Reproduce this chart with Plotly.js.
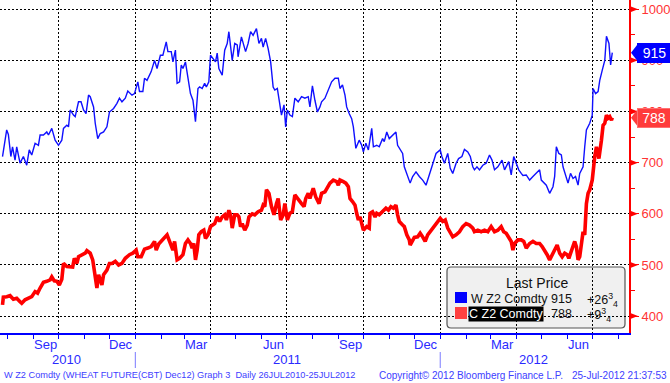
<!DOCTYPE html>
<html>
<head>
<meta charset="utf-8">
<script src="https://cdn.plot.ly/plotly-3.0.1.min.js"></script>
<style>html,body{margin:0;padding:0;background:#fff;}#chart{width:670px;height:383px;}</style>
</head>
<body>
<div id="chart"></div>
<script>
// ---- DATA ----
const wheatDates = ["2010-07-26","2010-07-28","2010-07-31","2010-08-02","2010-08-05","2010-08-07","2010-08-10","2010-08-12","2010-08-16","2010-08-20","2010-08-24","2010-08-27","2010-08-30","2010-09-03","2010-09-07","2010-09-09","2010-09-13","2010-09-17","2010-09-19","2010-09-23","2010-09-25","2010-09-27","2010-10-01","2010-10-05","2010-10-07","2010-10-11","2010-10-13","2010-10-15","2010-10-19","2010-10-21","2010-10-25","2010-10-28","2010-10-31","2010-11-03","2010-11-06","2010-11-08","2010-11-12","2010-11-14","2010-11-17","2010-11-20","2010-11-24","2010-11-28","2010-12-01","2010-12-06","2010-12-10","2010-12-13","2010-12-16","2010-12-20","2010-12-23","2010-12-28","2010-12-31","2011-01-04","2011-01-06","2011-01-10","2011-01-12","2011-01-15","2011-01-20","2011-01-24","2011-01-27","2011-01-31","2011-02-03","2011-02-07","2011-02-09","2011-02-13","2011-02-15","2011-02-18","2011-02-20","2011-02-23","2011-02-25","2011-02-27","2011-03-02","2011-03-05","2011-03-08","2011-03-11","2011-03-14","2011-03-17","2011-03-19","2011-03-22","2011-03-25","2011-03-27","2011-03-30","2011-04-01","2011-04-04","2011-04-07","2011-04-09","2011-04-11","2011-04-15","2011-04-18","2011-04-21","2011-04-23","2011-04-27","2011-04-30","2011-05-03","2011-05-04","2011-05-08","2011-05-13","2011-05-16","2011-05-19","2011-05-22","2011-05-26","2011-05-29","2011-06-01","2011-06-03","2011-06-06","2011-06-09","2011-06-12","2011-06-15","2011-06-17","2011-06-20","2011-06-22","2011-06-25","2011-06-28","2011-06-30","2011-07-02","2011-07-05","2011-07-08","2011-07-11","2011-07-15","2011-07-19","2011-07-23","2011-07-27","2011-07-29","2011-08-01","2011-08-04","2011-08-07","2011-08-10","2011-08-12","2011-08-16","2011-08-20","2011-08-22","2011-08-24","2011-08-28","2011-09-01","2011-09-03","2011-09-06","2011-09-09","2011-09-11","2011-09-14","2011-09-17","2011-09-19","2011-09-22","2011-09-26","2011-09-29","2011-10-01","2011-10-04","2011-10-07","2011-10-11","2011-10-13","2011-10-17","2011-10-20","2011-10-24","2011-10-26","2011-10-29","2011-11-01","2011-11-05","2011-11-09","2011-11-11","2011-11-13","2011-11-17","2011-11-19","2011-11-21","2011-11-23","2011-11-26","2011-11-29","2011-12-03","2011-12-07","2011-12-11","2011-12-15","2011-12-19","2011-12-23","2011-12-27","2012-01-01","2012-01-03","2012-01-06","2012-01-10","2012-01-13","2012-01-16","2012-01-20","2012-01-23","2012-01-27","2012-01-30","2012-02-03","2012-02-06","2012-02-09","2012-02-11","2012-02-14","2012-02-17","2012-02-21","2012-02-25","2012-02-29","2012-03-03","2012-03-06","2012-03-10","2012-03-15","2012-03-18","2012-03-23","2012-03-26","2012-03-29","2012-04-01","2012-04-04","2012-04-07","2012-04-09","2012-04-13","2012-04-17","2012-04-21","2012-04-25","2012-04-29","2012-05-01","2012-05-07","2012-05-11","2012-05-15","2012-05-17","2012-05-19","2012-05-22","2012-05-25","2012-05-27","2012-05-31","2012-06-02","2012-06-05","2012-06-08","2012-06-11","2012-06-14","2012-06-16","2012-06-20","2012-06-22","2012-06-24","2012-06-28","2012-07-01","2012-07-02","2012-07-05","2012-07-08","2012-07-10","2012-07-13","2012-07-16","2012-07-18","2012-07-21","2012-07-23","2012-07-25"];
const wheatPrices = [712,735,764,755,712,731,705,731,699,712,695,725,715,738,734,754,754,760,754,767,757,744,734,744,767,773,770,803,793,790,819,819,803,796,832,829,809,777,747,757,760,770,799,806,816,826,819,826,840,832,835,858,839,839,865,861,878,900,884,910,910,936,917,917,897,920,855,858,891,884,897,868,835,822,780,845,848,845,855,848,858,910,904,897,914,884,871,920,933,956,900,933,930,907,946,917,933,956,949,962,933,943,926,943,923,897,848,842,845,822,793,813,770,803,793,790,826,819,829,826,829,809,850,822,799,809,819,826,842,848,858,865,865,845,852,832,809,796,786,770,728,744,734,721,738,725,767,731,734,731,747,741,760,747,754,760,734,728,718,692,682,676,660,673,682,673,666,656,676,695,718,725,712,699,718,689,679,699,708,712,726,721,712,692,686,692,686,695,699,715,705,686,692,705,686,702,676,712,699,686,679,675,676,666,673,679,686,666,656,640,653,673,731,718,715,692,673,660,679,669,673,656,679,692,731,764,777,793,845,835,839,861,881,900,947,933,891,915];

const cornDates = ["2010-07-26","2010-07-27","2010-07-31","2010-08-04","2010-08-08","2010-08-12","2010-08-16","2010-08-18","2010-08-22","2010-08-26","2010-08-30","2010-09-03","2010-09-06","2010-09-09","2010-09-13","2010-09-17","2010-09-21","2010-09-23","2010-09-26","2010-09-29","2010-10-02","2010-10-05","2010-10-07","2010-10-11","2010-10-15","2010-10-18","2010-10-20","2010-10-23","2010-10-25","2010-10-29","2010-11-02","2010-11-04","2010-11-08","2010-11-11","2010-11-14","2010-11-16","2010-11-18","2010-11-20","2010-11-22","2010-11-24","2010-11-28","2010-12-01","2010-12-04","2010-12-08","2010-12-12","2010-12-16","2010-12-20","2010-12-25","2010-12-29","2011-01-02","2011-01-04","2011-01-08","2011-01-12","2011-01-16","2011-01-20","2011-01-24","2011-01-26","2011-01-29","2011-02-03","2011-02-08","2011-02-11","2011-02-15","2011-02-17","2011-02-20","2011-02-23","2011-02-27","2011-03-02","2011-03-05","2011-03-08","2011-03-10","2011-03-12","2011-03-14","2011-03-16","2011-03-18","2011-03-21","2011-03-24","2011-03-26","2011-03-29","2011-04-01","2011-04-06","2011-04-09","2011-04-12","2011-04-15","2011-04-18","2011-04-20","2011-04-23","2011-04-25","2011-04-27","2011-04-30","2011-05-03","2011-05-05","2011-05-07","2011-05-09","2011-05-12","2011-05-15","2011-05-17","2011-05-21","2011-05-24","2011-05-28","2011-06-01","2011-06-03","2011-06-05","2011-06-07","2011-06-10","2011-06-13","2011-06-16","2011-06-19","2011-06-21","2011-06-24","2011-06-27","2011-06-29","2011-07-02","2011-07-05","2011-07-08","2011-07-11","2011-07-15","2011-07-19","2011-07-22","2011-07-24","2011-07-27","2011-07-29","2011-08-02","2011-08-05","2011-08-09","2011-08-12","2011-08-16","2011-08-20","2011-08-22","2011-08-26","2011-08-30","2011-09-01","2011-09-03","2011-09-07","2011-09-10","2011-09-13","2011-09-15","2011-09-18","2011-09-21","2011-09-23","2011-09-25","2011-09-27","2011-09-29","2011-10-01","2011-10-05","2011-10-08","2011-10-09","2011-10-12","2011-10-15","2011-10-17","2011-10-20","2011-10-24","2011-10-28","2011-10-31","2011-11-03","2011-11-06","2011-11-09","2011-11-11","2011-11-13","2011-11-17","2011-11-19","2011-11-22","2011-11-25","2011-11-26","2011-11-29","2011-12-01","2011-12-05","2011-12-08","2011-12-11","2011-12-14","2011-12-17","2011-12-21","2011-12-25","2011-12-29","2012-01-01","2012-01-04","2012-01-07","2012-01-10","2012-01-13","2012-01-16","2012-01-20","2012-01-24","2012-01-28","2012-02-01","2012-02-05","2012-02-09","2012-02-11","2012-02-15","2012-02-19","2012-02-23","2012-02-27","2012-03-02","2012-03-06","2012-03-10","2012-03-14","2012-03-17","2012-03-20","2012-03-24","2012-03-26","2012-03-28","2012-03-30","2012-04-03","2012-04-07","2012-04-10","2012-04-13","2012-04-17","2012-04-21","2012-04-25","2012-04-29","2012-05-02","2012-05-05","2012-05-08","2012-05-11","2012-05-14","2012-05-17","2012-05-20","2012-05-23","2012-05-26","2012-05-29","2012-06-01","2012-06-03","2012-06-06","2012-06-10","2012-06-12","2012-06-14","2012-06-16","2012-06-18","2012-06-20","2012-06-22","2012-06-24","2012-06-26","2012-06-28","2012-07-01","2012-07-02","2012-07-04","2012-07-06","2012-07-09","2012-07-12","2012-07-14","2012-07-16","2012-07-18","2012-07-20","2012-07-22","2012-07-24","2012-07-25"];
const cornPrices = [422,437,438,440,433,435,428,425,432,435,438,448,445,455,466,468,471,477,469,468,461,472,503,497,497,496,513,503,516,520,523,528,523,510,474,455,481,471,461,481,490,503,503,507,500,503,513,520,523,529,516,516,531,533,536,546,529,541,550,559,546,529,546,510,513,520,542,549,542,533,542,510,529,559,565,568,552,559,575,581,594,585,594,598,588,607,598,572,598,598,594,575,581,568,578,594,600,598,604,607,617,614,647,640,614,598,620,630,588,598,620,588,601,604,637,627,620,614,630,640,630,650,633,620,640,643,655,660,666,663,656,666,663,660,653,630,624,617,601,588,594,578,568,575,572,601,604,594,601,598,604,611,607,614,611,617,598,585,578,575,559,549,539,549,554,555,562,555,546,559,568,578,585,591,585,588,572,565,555,559,565,575,581,578,572,565,568,565,568,565,575,565,568,575,565,562,552,546,529,542,549,549,546,533,542,546,542,542,536,529,520,510,520,526,539,523,516,523,520,513,529,546,536,510,516,549,565,559,620,640,647,666,686,712,731,708,744,773,777,793,787,790,783,788];

const wheatName = "W Z2 Comdty", cornName = "C Z2 Comdty";
const wheatChange = "+26<sup>3</sup><sub>4</sub>", cornChange = "+9<sup>3</sup><sub>4</sub>";
const yTicks = [400, 500, 600, 700, 800, 900, 1000];
const yMinor = [450, 550, 650, 750, 850, 950];
const gridDates = ["2010-10-01","2011-01-01","2011-04-01","2011-07-01","2011-10-01","2012-01-01","2012-04-01","2012-07-01"];
const monthTicks = ["2010-08-01","2010-09-01","2010-10-01","2010-11-01","2010-12-01","2011-01-01","2011-02-01","2011-03-01","2011-04-01","2011-05-01","2011-06-01","2011-07-01","2011-08-01","2011-09-01","2011-10-01","2011-11-01","2011-12-01","2012-01-01","2012-02-01","2012-03-01","2012-04-01","2012-05-01","2012-06-01","2012-07-01","2012-08-01"];
const monthLabelDates = ["2010-09-15","2010-12-15","2011-03-15","2011-06-15","2011-09-15","2011-12-15","2012-03-15","2012-06-15"];
const monthLabels = ["Sep","Dec","Mar","Jun","Sep","Dec","Mar","Jun"];
const yearLabelDates = ["2010-10-11","2011-07-01","2012-04-22"];
const yearLabels = ["2010","2011","2012"];
const yearBreaks = ["2011-01-01","2012-01-01"];
const footerLeft = "W Z2 Comdty (WHEAT FUTURE(CBT) Dec12) Graph 3  Daily 26JUL2010-25JUL2012";
const footerMid = "Copyright\u00a9 2012 Bloomberg Finance L.P.";
const footerRight = "25-Jul-2012 21:37:53";

// ---- STYLE ----
const W = 670, H = 383, ML = 0, MR = 41, MT = 0, MB = 50;
const PW = W - ML - MR, PH = H - MT - MB;
const Y_RANGE = [367, 1018];
const UPP = (Y_RANGE[1] - Y_RANGE[0]) / PH;   // y data units per pixel
const px = x => x / PW;               // pixel (plot-relative) -> paper x
const py = y => (PH - y) / PH;        // pixel (from top) -> paper y
const BLUE = "#0000ff", RED = "#ff0000", LBL = "#2a2aff", AXR = "#ff3333", BADGE_RED = "#ff3b3b";
const FONT = "Liberation Sans, Arial, sans-serif";

const wLast = wheatPrices[wheatPrices.length - 1];
const cLast = cornPrices[cornPrices.length - 1];

const traces = [
  {x: wheatDates, y: wheatPrices, type: "scatter", mode: "lines", line: {color: "#1010ff", width: 1.4}, hoverinfo: "skip"},
  {x: cornDates, y: cornPrices, type: "scatter", mode: "lines", line: {color: RED, width: 3.6}, hoverinfo: "skip"}
];

const annotations = [];
monthLabels.forEach((t, i) => annotations.push({x: monthLabelDates[i], y: py(344), xref: "x", yref: "paper", text: t,
  showarrow: false, xanchor: "center", yanchor: "middle", font: {family: FONT, size: 13, color: LBL}}));
yearLabels.forEach((t, i) => annotations.push({x: yearLabelDates[i], y: py(359), xref: "x", yref: "paper", text: t,
  showarrow: false, xanchor: "center", yanchor: "middle", font: {family: FONT, size: 13, color: LBL}}));
annotations.push(
  {x: px(2), y: py(375), xref: "paper", yref: "paper", text: footerLeft, showarrow: false, xanchor: "left", yanchor: "middle", font: {family: FONT, size: 9.2, color: "#4040ff"}},
  {x: px(377), y: py(375), xref: "paper", yref: "paper", text: footerMid, showarrow: false, xanchor: "left", yanchor: "middle", font: {family: FONT, size: 10, color: "#4040ff"}},
  {x: px(669), y: py(375), xref: "paper", yref: "paper", text: footerRight, showarrow: false, xanchor: "right", yanchor: "middle", font: {family: FONT, size: 10, color: "#4040ff"}},
  // badges
  {x: px(637), y: wLast, xref: "paper", yref: "y", text: String(wLast), showarrow: false, xanchor: "left", yanchor: "middle",
   bgcolor: BLUE, bordercolor: BLUE, borderpad: 0, width: 33, height: 18, align: "center", font: {family: FONT, size: 14, color: "#fff"}},
  {x: px(637), y: cLast, xref: "paper", yref: "y", text: String(cLast), showarrow: false, xanchor: "left", yanchor: "middle",
   bgcolor: BADGE_RED, bordercolor: "#ff7070", borderwidth: 1, borderpad: 0, width: 32, height: 18, align: "center", font: {family: FONT, size: 14, color: "#fff"}},
  // legend box texts
  {x: px(537), y: py(283), xref: "paper", yref: "paper", text: "Last Price", showarrow: false, xanchor: "center", yanchor: "middle", font: {family: FONT, size: 14, color: "#111"}},
  {x: px(469), y: py(299), xref: "paper", yref: "paper", text: wheatName, showarrow: false, xanchor: "left", yanchor: "middle", font: {family: FONT, size: 12.5, color: "#111"}},
  {x: px(574), y: py(299), xref: "paper", yref: "paper", text: String(wLast), showarrow: false, xanchor: "right", yanchor: "middle", font: {family: FONT, size: 12.5, color: "#111"}},
  {x: px(585), y: py(300), xref: "paper", yref: "paper", text: wheatChange, showarrow: false, xanchor: "left", yanchor: "middle", font: {family: FONT, size: 12.5, color: "#111"}},
  {x: px(468), y: py(314), xref: "paper", yref: "paper", text: cornName, showarrow: false, xanchor: "left", yanchor: "middle", bgcolor: "#000", borderpad: 0, font: {family: FONT, size: 12.5, color: "#fff"}},
  {x: px(574), y: py(314), xref: "paper", yref: "paper", text: String(cLast), showarrow: false, xanchor: "right", yanchor: "middle", font: {family: FONT, size: 12.5, color: "#111"}},
  {x: px(585), y: py(315), xref: "paper", yref: "paper", text: cornChange, showarrow: false, xanchor: "left", yanchor: "middle", font: {family: FONT, size: 12.5, color: "#111"}}
);

// rounded legend box path in paper coords
function roundRect(x0, y0, x1, y1, r) {
  const rx = r / PW, ry = r / PH;
  const X0 = px(x0), X1 = px(x1), Yt = py(y0), Yb = py(y1);
  return `M ${X0 + rx} ${Yt} L ${X1 - rx} ${Yt} Q ${X1} ${Yt} ${X1} ${Yt - ry} L ${X1} ${Yb + ry} Q ${X1} ${Yb} ${X1 - rx} ${Yb} ` +
         `L ${X0 + rx} ${Yb} Q ${X0} ${Yb} ${X0} ${Yb + ry} L ${X0} ${Yt - ry} Q ${X0} ${Yt} ${X0 + rx} ${Yt} Z`;
}
const shapes = [
  {type: "path", xref: "paper", yref: "paper", path: roundRect(447, 267, 625, 328, 4), fillcolor: "#f0f0f0", line: {color: "#555", width: 1.2}, layer: "below"},
  {type: "rect", xref: "paper", yref: "paper", x0: px(455), x1: px(467), y0: py(303), y1: py(292), fillcolor: BLUE, line: {width: 0}},
  {type: "rect", xref: "paper", yref: "paper", x0: px(455), x1: px(467), y0: py(319), y1: py(307), fillcolor: "#ff4040", line: {width: 0}}
];
yearBreaks.forEach(d => shapes.push({type: "line", xref: "x", yref: "paper", x0: d, x1: d, y0: py(352), y1: py(368), line: {color: "#7a7aff", width: 1}}));
// red arrow heads on the right axis at each major tick value
yTicks.forEach(v => {
  const h = 3.5 * UPP;
  shapes.push({type: "path", xref: "paper", yref: "y", path: `M 1 ${v + h} L ${px(PW + 9)} ${v} L 1 ${v - h} Z`, fillcolor: RED, line: {width: 0}});
});
// badge pointers (left-pointing) at last prices
[[wLast, BLUE], [cLast, BADGE_RED]].forEach(([v, c]) => {
  const h = 9 * UPP;
  shapes.push({type: "path", xref: "paper", yref: "y", path: `M ${px(PW + 2)} ${v} L ${px(PW + 9)} ${v + h} L ${px(PW + 9)} ${v - h} Z`, fillcolor: c, line: {width: 0}});
});

const layout = {
  width: W, height: H, margin: {l: ML, r: MR, t: MT, b: MB, pad: 0},
  paper_bgcolor: "#fff", plot_bgcolor: "#fff", showlegend: false, hovermode: false,
  font: {family: FONT},
  xaxis: {type: "date", range: ["2010-07-23", "2012-08-14"], tickmode: "array", tickvals: gridDates, showticklabels: false,
    showgrid: true, gridcolor: "#000", gridwidth: 1, griddash: "2px,2px", ticks: "outside", ticklen: 4, tickwidth: 1, tickcolor: BLUE,
    showline: true, linecolor: BLUE, linewidth: 1.5, zeroline: false, fixedrange: true,
    minor: {tickmode: "array", tickvals: monthTicks, ticks: "outside", ticklen: 4, tickwidth: 1, tickcolor: BLUE, showgrid: false}},
  yaxis: {side: "right", range: Y_RANGE, tickmode: "array", tickvals: yTicks, showgrid: true, gridcolor: "#000", gridwidth: 1, griddash: "2px,2px",
    ticks: "outside", ticklen: 8, tickwidth: 1, tickcolor: RED, tickfont: {family: FONT, size: 13, color: AXR},
    showline: true, linecolor: RED, linewidth: 2, zeroline: false, fixedrange: true,
    minor: {tickmode: "array", tickvals: yMinor, ticks: "outside", ticklen: 4, tickwidth: 1, tickcolor: RED, showgrid: false}},
  annotations: annotations, shapes: shapes
};

Plotly.newPlot("chart", traces, layout, {staticPlot: true, displayModeBar: false});
</script>
</body>
</html>
